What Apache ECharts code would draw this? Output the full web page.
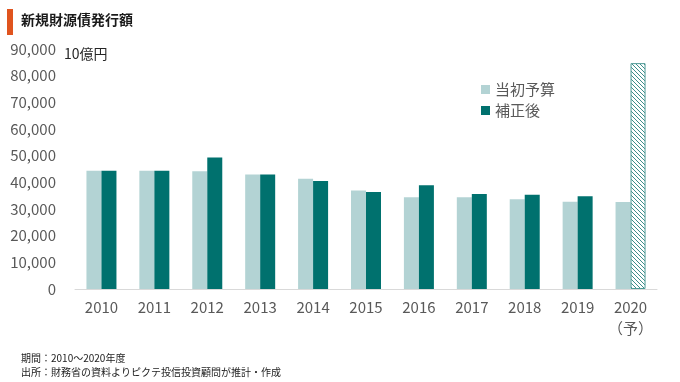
<!DOCTYPE html>
<html>
<head>
<meta charset="utf-8">
<script src="https://cdn.jsdelivr.net/npm/echarts@6/dist/echarts.min.js"></script>
<style>
html,body{margin:0;padding:0;background:#fff;}
#c{width:680px;height:382px;}
</style>
</head>
<body>
<div id="c"></div>
<script>
const categories = ['2010','2011','2012','2013','2014','2015','2016','2017','2018','2019','2020\n（予）'];
const initialBudget = [44300, 44300, 44200, 42900, 41300, 36900, 34400, 34400, 33700, 32700, 32600];
const revised = [44300, 44300, 49300, 42900, 40500, 36400, 38900, 35600, 35300, 34800, 84700];
const yTicks = [0, 10000, 20000, 30000, 40000, 50000, 60000, 70000, 80000, 90000];
const seriesNames = ['当初予算', '補正後'];
const titleText = '新規財源債発行額';
const unitText = '10億円';
const noteLines = ['期間：2010～2020年度', '出所：財務省の資料よりピクテ投信投資顧問が推計・作成'];
const forecastIndex = 10;

const FONT = '"Noto Sans CJK JP", "Noto Sans", sans-serif';
const LIGHT = '#b3d3d4';
const DARK = '#00716e';

// hatch pattern
const pc = document.createElement('canvas');
pc.width = 4; pc.height = 4;
const pctx = pc.getContext('2d');
pctx.fillStyle = '#ffffff';
pctx.fillRect(0,0,4,4);
pctx.strokeStyle = '#3f8f8b';
pctx.lineWidth = 1;
pctx.beginPath();
pctx.moveTo(-1,-1); pctx.lineTo(5,5);
pctx.moveTo(-1,3); pctx.lineTo(1,5);
pctx.moveTo(3,-1); pctx.lineTo(5,1);
pctx.stroke();

const revisedData = revised.map((v, i) => i === forecastIndex
  ? { value: v, itemStyle: { color: { image: pc, repeat: 'repeat' }, borderColor: '#4f9b97', borderWidth: 1 } }
  : v);

const chart = echarts.init(document.getElementById('c'), null, { renderer: 'canvas' });
chart.setOption({
  animation: false,
  textStyle: { fontFamily: FONT },
  graphic: [
    { type: 'rect', shape: { x: 7, y: 9, width: 6, height: 26 }, style: { fill: '#e0541e' } },
    { type: 'text', left: 21, top: 13, style: { text: titleText, font: 'bold 14px ' + FONT, fill: '#1a1a1a' } },
    { type: 'text', left: 64, top: 47, style: { text: unitText, font: '14px ' + FONT, fill: '#262626' } },
    { type: 'text', left: 21, top: 351, style: { text: noteLines.join('\n'), font: '10px ' + FONT, fill: '#222', lineHeight: 14 } }
  ],
  legend: {
    orient: 'vertical', left: 476, top: 77,
    itemWidth: 9, itemHeight: 9, itemGap: 6,
    icon: 'rect',
    textStyle: { fontSize: 15, color: '#595959', fontFamily: FONT },
    data: seriesNames
  },
  grid: { left: 75, right: 23, top: 49, bottom: 93, containLabel: false },
  xAxis: {
    type: 'category', data: categories,
    axisLine: { lineStyle: { color: '#d9d9d9', width: 1 } },
    axisTick: { show: false },
    axisLabel: { interval: 0, color: '#595959', fontSize: 15, margin: 8, lineHeight: 21, fontFamily: FONT }
  },
  yAxis: {
    type: 'value', min: yTicks[0], max: yTicks[yTicks.length-1], interval: yTicks[1]-yTicks[0],
    axisLine: { show: false }, axisTick: { show: false },
    splitLine: { show: false },
    axisLabel: { color: '#595959', fontSize: 15, margin: 19, fontFamily: FONT,
      formatter: v => v.toLocaleString('en-US') }
  },
  series: [
    { name: seriesNames[0], type: 'bar', data: initialBudget, barWidth: 15, barGap: '0%',
      itemStyle: { color: LIGHT } },
    { name: seriesNames[1], type: 'bar', data: revisedData, barWidth: 15, barGap: '0%',
      itemStyle: { color: DARK } }
  ]
});
</script>
</body>
</html>
